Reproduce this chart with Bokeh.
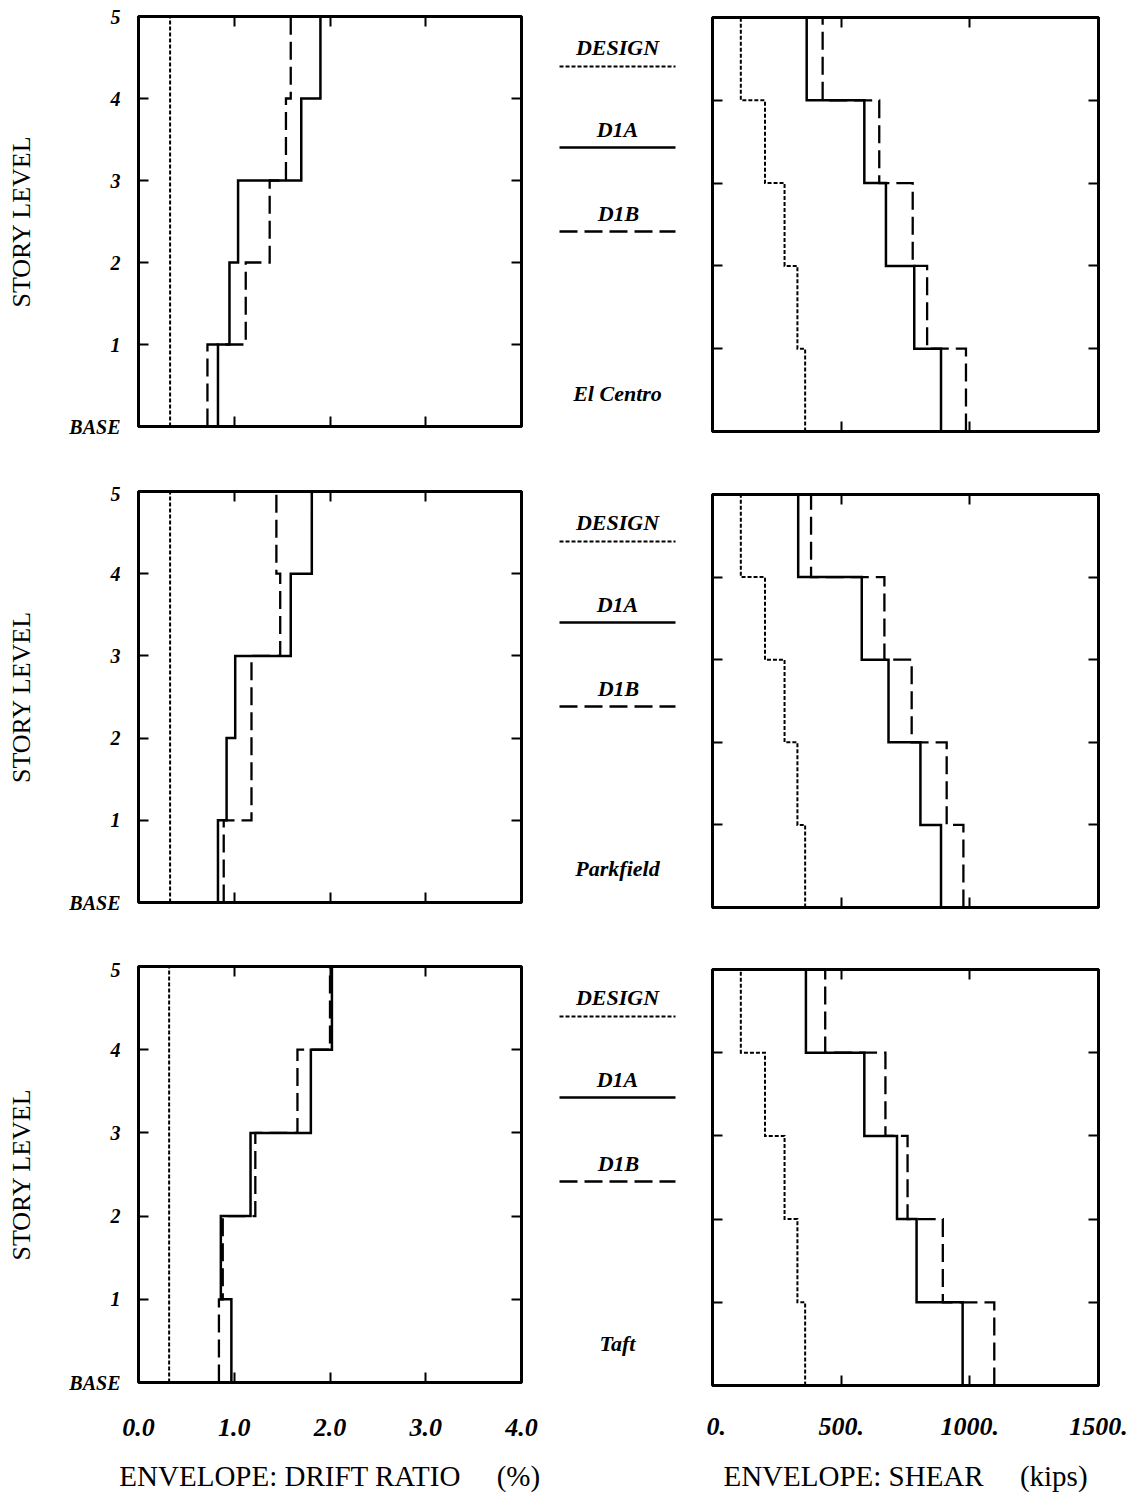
from bokeh.plotting import figure
from bokeh.layouts import row, column
from bokeh.models import Range1d, LinearAxis, FixedTicker
from bokeh.embed import file_html
from bokeh.resources import INLINE
from bokeh.core.properties import value

# ---------------- data ----------------
levels = [0, 1, 2, 3, 4, 5]
level_labels = ["BASE", "1", "2", "3", "4", "5"]
drift_ticks = [0, 1, 2, 3, 4]
drift_tick_labels = ["0.0", "1.0", "2.0", "3.0", "4.0"]
shear_ticks = [0, 500, 1000, 1500]
shear_tick_labels = ["0.", "500.", "1000.", "1500."]
quakes = ["El Centro", "Parkfield", "Taft"]
series_names = ["DESIGN", "D1A", "D1B"]

# envelope drift ratio (%) for stories 1..5
drift_design_elcentro = [0.33, 0.33, 0.33, 0.33, 0.33]
drift_d1a_elcentro = [0.83, 0.95, 1.04, 1.70, 1.90]
drift_d1b_elcentro = [0.72, 1.12, 1.37, 1.54, 1.59]
drift_design_parkfield = [0.33, 0.33, 0.33, 0.33, 0.33]
drift_d1a_parkfield = [0.83, 0.92, 1.01, 1.59, 1.81]
drift_d1b_parkfield = [0.89, 1.18, 1.18, 1.48, 1.44]
drift_design_taft = [0.32, 0.32, 0.32, 0.32, 0.32]
drift_d1a_taft = [0.97, 0.86, 1.17, 1.80, 2.02]
drift_d1b_taft = [0.84, 0.88, 1.22, 1.66, 2.00]

# envelope story shear (kips) for stories 1..5
shear_design = [360, 330, 280, 204, 110]
shear_d1a_elcentro = [888, 784, 674, 590, 366]
shear_d1b_elcentro = [985, 834, 778, 648, 428]
shear_d1a_parkfield = [888, 808, 684, 580, 333]
shear_d1b_parkfield = [975, 910, 774, 668, 383]
shear_d1a_taft = [972, 793, 717, 590, 363]
shear_d1b_taft = [1095, 895, 758, 672, 438]

drift_sets = [
    (drift_design_elcentro, drift_d1a_elcentro, drift_d1b_elcentro),
    (drift_design_parkfield, drift_d1a_parkfield, drift_d1b_parkfield),
    (drift_design_taft, drift_d1a_taft, drift_d1b_taft),
]
shear_sets = [
    (shear_design, shear_d1a_elcentro, shear_d1b_elcentro),
    (shear_design, shear_d1a_parkfield, shear_d1b_parkfield),
    (shear_design, shear_d1a_taft, shear_d1b_taft),
]

# ---------------- styles ----------------
SERIF = "Liberation Serif"
NB = "\u00a0"
styles = {
    "DESIGN": dict(line_width=2.0, line_dash="4 2"),
    "D1A": dict(line_width=2.5, line_dash="solid"),
    "D1B": dict(line_width=2.3, line_dash="18 7"),
}


def step_path(vals):
    xs, ys = [], []
    for i, v in enumerate(vals):
        xs += [v, v]
        ys += [levels[i], levels[i + 1]]
    return xs, ys


def style_axis(ax, ticks, labels=None, size="22px", show=True):
    ax.ticker = FixedTicker(ticks=ticks)
    ax.axis_line_color = None
    ax.major_tick_in = 10
    ax.major_tick_out = 0
    ax.major_tick_line_width = 2
    ax.major_tick_line_color = "black"
    ax.minor_tick_line_color = None
    if show and labels is not None:
        ax.major_label_overrides = {t: l for t, l in zip(ticks, labels)}
        ax.major_label_text_font = SERIF
        ax.major_label_text_font_style = "bold italic"
        ax.major_label_text_font_size = size
        ax.major_label_text_color = "black"
    else:
        ax.major_label_text_font_size = "0px"
        ax.major_label_text_color = None
        ax.major_label_standoff = 0


def panel(kind, r, width, height, mb, tick_standoff=36, title_standoff=21):
    bottom_row = (r == 2)
    if kind == "drift":
        xr = Range1d(0, 4)
        xt, xl = drift_ticks, drift_tick_labels
        data = drift_sets[r]
    else:
        xr = Range1d(0, 1500)
        xt, xl = shear_ticks, shear_tick_labels
        data = shear_sets[r]
    p = figure(width=width, height=height, x_range=xr, y_range=Range1d(0, 5),
               output_backend="svg", toolbar_location=None,
               min_border_left=mb[0], min_border_right=mb[1],
               min_border_top=mb[2], min_border_bottom=mb[3],
               background_fill_color="white", border_fill_color="white")
    p.xgrid.grid_line_color = None
    p.ygrid.grid_line_color = None
    p.outline_line_color = "black"
    p.outline_line_width = 3

    # bottom axis
    bx = p.xaxis[0]
    style_axis(bx, xt, xl, size="26px", show=bottom_row)
    if bottom_row:
        bx.major_label_standoff = tick_standoff
        bx.axis_label = ("ENVELOPE: DRIFT RATIO" + NB * 5 + "(%)" if kind == "drift"
                         else "ENVELOPE: SHEAR" + NB * 5 + "(kips)")
        bx.axis_label_text_font = SERIF
        bx.axis_label_text_font_style = "normal"
        bx.axis_label_text_font_size = "29px"
        bx.axis_label_standoff = title_standoff
        bx.axis_label_text_color = "black"
    # left axis
    ly = p.yaxis[0]
    style_axis(ly, levels, level_labels, size="20px", show=(kind == "drift"))
    if kind == "drift":
        ly.major_label_standoff = 18
        ly.axis_label = "STORY LEVEL"
        ly.axis_label_text_font = SERIF
        ly.axis_label_text_font_style = "normal"
        ly.axis_label_text_font_size = "26px"
        ly.axis_label_standoff = 30
        ly.axis_label_text_color = "black"
    # top and right axes with ticks only
    ta = LinearAxis()
    style_axis(ta, xt, show=False)
    p.add_layout(ta, "above")
    ra = LinearAxis()
    style_axis(ra, levels, show=False)
    p.add_layout(ra, "right")

    for name, vals in zip(series_names, data):
        xs, ys = step_path(vals)
        p.line(xs, ys, line_color="black", line_join="miter", **styles[name])
    return p


MID_X0 = 546
MID_W = 162


def middle(r, y0, height):
    p = figure(width=MID_W, height=height, x_range=Range1d(MID_X0, MID_X0 + MID_W),
               y_range=Range1d(y0 + height, y0), output_backend="svg",
               toolbar_location=None, min_border=0,
               background_fill_color="white", border_fill_color="white")
    p.axis.visible = False
    p.xgrid.grid_line_color = None
    p.ygrid.grid_line_color = None
    p.outline_line_color = None
    base = r * 475
    text_y = [base + 48, base + 130, base + 214]
    line_y = [base + 67, base + 148, base + 232]
    p.text(x=[619, 619, 620], y=text_y, text=series_names,
           text_align="center", text_baseline="middle",
           text_font=value(SERIF), text_font_style="bold italic",
           text_font_size="22px", text_color="black")
    for name, ly in zip(series_names, line_y):
        p.line([561, 677], [ly, ly], line_color="black", **styles[name])
    p.text(x=[619], y=[base + 394], text=[quakes[r]],
           text_align="center", text_baseline="middle",
           text_font=value(SERIF), text_font_style="bold italic",
           text_font_size="22px", text_color="black")
    return p


# left figures: 138 + 383 + 23 = 544 wide
L = [
    panel("drift", 0, 544, 482, (138, 23, 16, 56)),
    panel("drift", 1, 544, 476, (138, 23, 9, 56)),
    panel("drift", 2, 544, 537, (138, 23, 8, 113)),
]
R = [
    panel("shear", 0, 424, 484, (6, 32, 17, 53)),
    panel("shear", 1, 424, 475, (6, 32, 10, 52)),
    panel("shear", 2, 424, 536, (6, 32, 10, 110), tick_standoff=32, title_standoff=22),
]
M = [
    middle(0, 1, 482),
    middle(1, 483, 476),
    middle(2, 959, 537),
]

layout = row(column(*L), column(*M), column(*R))
open("out.html", "w").write(file_html(layout, INLINE))
